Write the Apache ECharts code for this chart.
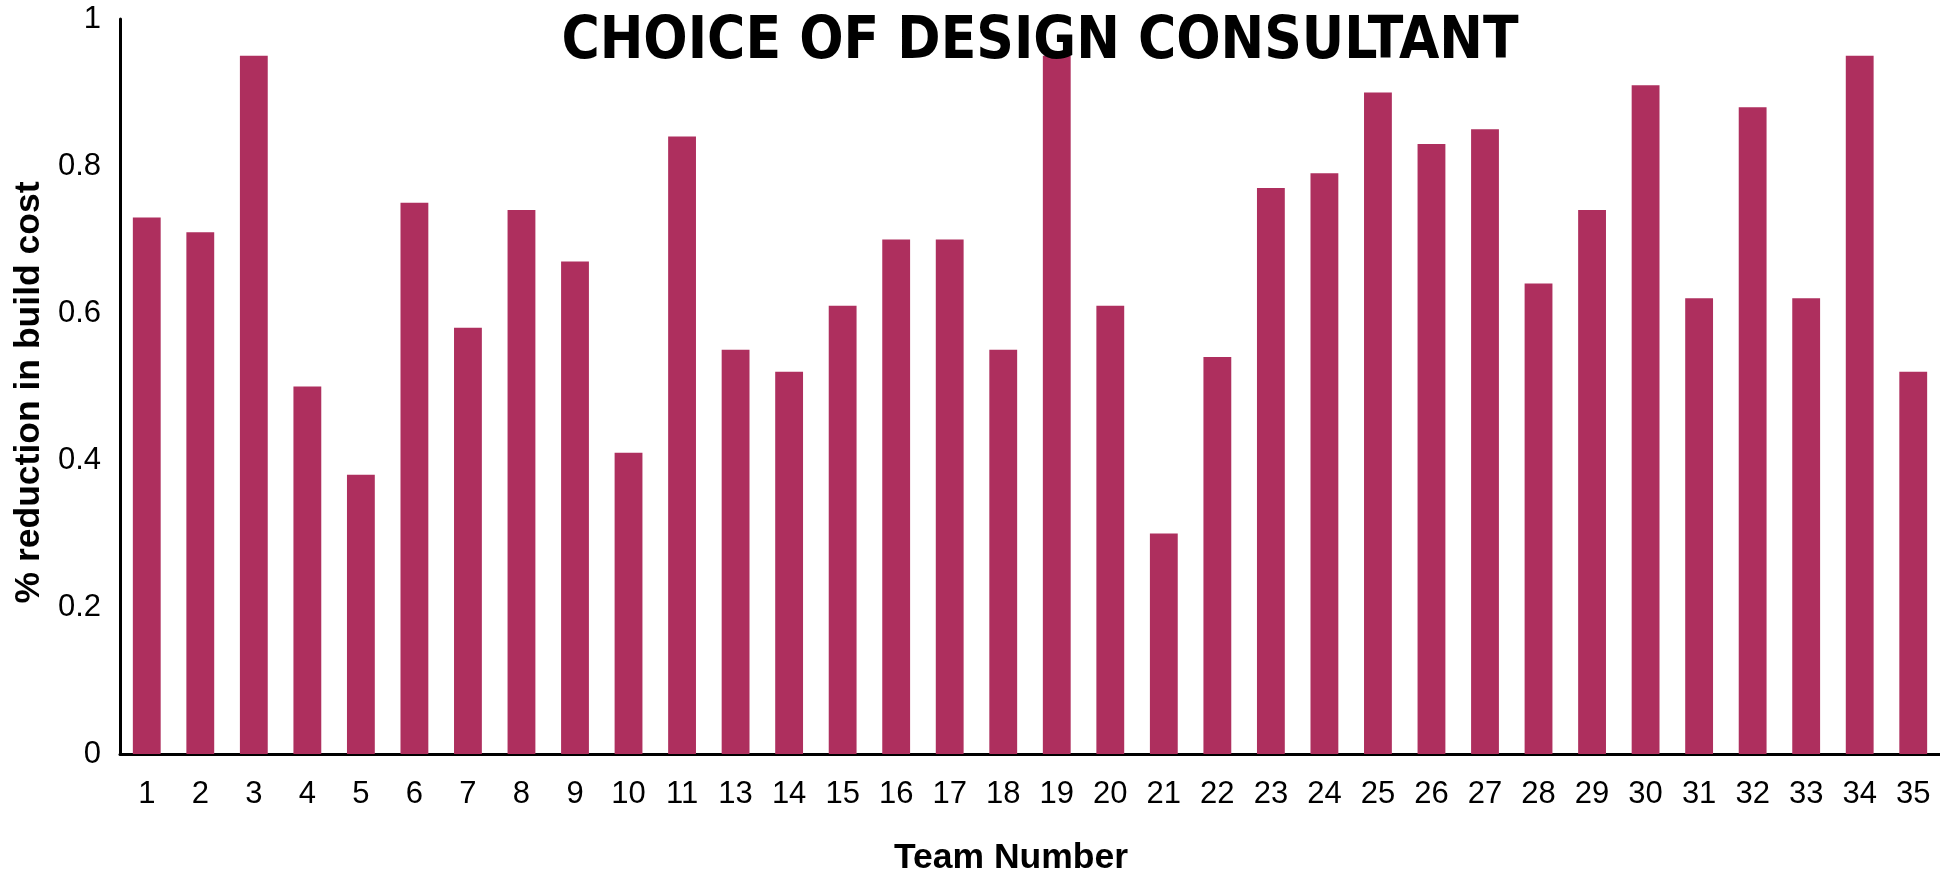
<!DOCTYPE html>
<html>
<head>
<meta charset="utf-8">
<script src="https://cdn.jsdelivr.net/npm/echarts@6/dist/echarts.min.js"></script>
<style>
  html, body { margin: 0; padding: 0; background: #fff; }
  #chart { width: 1940px; height: 881px; }
</style>
</head>
<body>
<div id="chart"></div>
<script>
const teams = ['1', '2', '3', '4', '5', '6', '7', '8', '9', '10', '11', '13', '14', '15', '16', '17', '18',
  '19', '20', '21', '22', '23', '24', '25', '26', '27', '28', '29', '30', '31', '32', '33', '34', '35']

const reduction = [0.73, 0.71, 0.95, 0.50, 0.38, 0.75, 0.58, 0.74, 0.67, 0.41, 0.84, 0.55, 0.52, 0.61, 0.70, 0.70, 0.55,
  0.95, 0.61, 0.30, 0.54, 0.77, 0.79, 0.90, 0.83, 0.85, 0.64, 0.74, 0.91, 0.62, 0.88, 0.62, 0.95, 0.52]

const yTicks = { min: 0, max: 1, interval: 0.2 }

const font = '"Liberation Sans", Arial, sans-serif'

const myChart = echarts.init(document.getElementById('chart'))

myChart.setOption({
  animation: false,
  title: {
    text: 'CHOICE OF DESIGN CONSULTANT',
    left: 1035,
    top: 9,
    textAlign: 'center',
    textStyle: {
      fontFamily: '"Liberation Sans Narrow", "DejaVu Sans Condensed", "Liberation Sans", sans-serif',
      fontWeight: 'bold',
      fontSize: 58,
      color: '#000'
    },
    z: 10
  },
  grid: {
    left: 120,
    top: 19,
    width: 1822,
    bottom: 125
  },
  xAxis: {
    type: 'category',
    data: teams,
    name: 'Team Number',
    nameLocation: 'middle',
    nameGap: 86,
    nameTextStyle: {
      fontFamily: font,
      fontWeight: 'bold',
      fontSize: 35.5,
      color: '#000',
      padding: [0, 38, 0, 0]
    },
    axisLine: { lineStyle: { color: '#000', width: 3 } },
    axisTick: { show: false },
    axisLabel: {
      margin: 25,
      fontFamily: font,
      fontSize: 31,
      color: '#000',
      interval: 0
    }
  },
  yAxis: {
    type: 'value',
    min: yTicks.min,
    max: yTicks.max,
    interval: yTicks.interval,
    name: '% reduction in build cost',
    nameLocation: 'middle',
    nameGap: 73,
    nameTextStyle: {
      fontFamily: font,
      fontWeight: 'bold',
      fontSize: 35.5,
      color: '#000',
      padding: [0, 12, 0, 0]
    },
    axisLine: { show: true, lineStyle: { color: '#000', width: 3 } },
    axisTick: { show: false },
    splitLine: { show: false },
    axisLabel: {
      margin: 19,
      fontFamily: font,
      fontSize: 31,
      color: '#000'
    }
  },
  series: [
    {
      type: 'bar',
      data: reduction,
      barWidth: '52%',
      itemStyle: { color: '#AE2F5E' }
    }
  ]
})
</script>
</body>
</html>
